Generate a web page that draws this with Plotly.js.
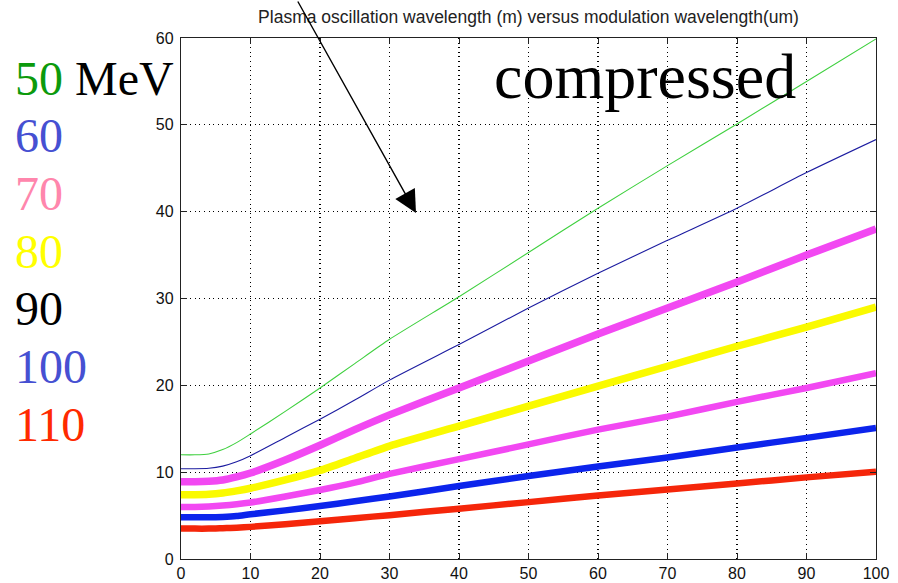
<!DOCTYPE html>
<html>
<head>
<meta charset="utf-8">
<script src="https://cdn.plot.ly/plotly-3.0.1.min.js"></script>
<style>
  html, body { margin: 0; padding: 0; background: #fff; }
  #chart { width: 898px; height: 583px; }
</style>
</head>
<body>
<div id="chart"></div>
<script>
// Modulation wavelength (um)
const modulationWavelength = [0, 2, 4, 6, 8, 10, 15, 20, 25, 30, 40, 50, 60, 70, 80, 90, 100];

// Plasma oscillation wavelength for each beam energy
const energyLabels = ['50', '60', '70', '80', '90', '100', '110'];
const wl50  = [12.0, 12.0, 12.1, 12.6, 13.4, 14.4, 17.0, 19.7, 22.5, 25.3, 30.2, 35.3, 40.4, 45.3, 50.1, 55.0, 59.9];
const wl60  = [10.4, 10.4, 10.45, 10.7, 11.2, 11.9, 14.0, 16.1, 18.3, 20.6, 24.7, 28.9, 32.9, 36.7, 40.4, 44.5, 48.3];
const wl70  = [8.9, 8.9, 8.95, 9.1, 9.45, 9.9, 11.4, 13.1, 14.9, 16.6, 19.7, 22.8, 25.9, 28.9, 31.9, 35.0, 38.0];
const wl80  = [7.4, 7.4, 7.45, 7.6, 7.85, 8.15, 9.1, 10.2, 11.6, 13.0, 15.3, 17.6, 19.9, 22.2, 24.5, 26.7, 29.0];
const wl90  = [6.0, 6.0, 6.05, 6.15, 6.3, 6.5, 7.2, 7.95, 8.8, 9.8, 11.5, 13.2, 14.9, 16.4, 18.1, 19.7, 21.4];
const wl100 = [4.8, 4.8, 4.8, 4.85, 4.95, 5.15, 5.6, 6.1, 6.65, 7.2, 8.4, 9.55, 10.65, 11.7, 12.85, 13.95, 15.1];
const wl110 = [3.5, 3.5, 3.5, 3.55, 3.6, 3.7, 4.0, 4.35, 4.7, 5.05, 5.8, 6.55, 7.3, 8.0, 8.7, 9.4, 10.05];

const seriesValues = [wl50, wl60, wl70, wl80, wl90, wl100, wl110];
const lineColors   = ['#3fd03f', '#1c1ca0', '#f248f2', '#fafa00', '#f248f2', '#0c24ec', '#f5260a'];
const lineWidths   = [1.1, 1.1, 7.5, 7.5, 6.5, 6.5, 6.5];

// Side labels (energies in MeV) and their colours
const sideLabelColors = ['#0c9a0c', '#4650d2', '#ff86ac', '#ffff00', '#000000', '#4650d2', '#ff2a00'];

const xTicks = [0, 10, 20, 30, 40, 50, 60, 70, 80, 90, 100];
const yTicks = [0, 10, 20, 30, 40, 50, 60];

const traces = seriesValues.map((ys, i) => ({
  type: 'scatter',
  mode: 'lines',
  x: modulationWavelength,
  y: ys,
  name: energyLabels[i] + ' MeV',
  line: { color: lineColors[i], width: lineWidths[i], shape: 'spline', smoothing: 0.6 },
  hoverinfo: 'x+y+name'
}));

// Geometry of the plotting box in pixels
const W = 898, H = 583;
const M = { l: 181, r: 22, t: 38, b: 24 };
const plotW = W - M.l - M.r;
const plotH = H - M.t - M.b;
const px2paperX = p => (p - M.l) / plotW;
const px2paperY = p => (H - M.b - p) / plotH;

const annotations = [];

// Energy labels down the left side
const labelTop = 78, labelStep = 57.7;
energyLabels.forEach((lab, i) => {
  const text = i === 0
    ? '<span style="color:' + sideLabelColors[0] + '">' + lab + '</span><span style="color:#000"> MeV</span>'
    : lab;
  annotations.push({
    xref: 'paper', yref: 'paper',
    x: px2paperX(13), y: px2paperY(labelTop + i * labelStep),
    xanchor: 'left', yanchor: 'middle',
    text: text, showarrow: false,
    font: { family: '"Liberation Serif", "Times New Roman", serif', size: 48, color: sideLabelColors[i] }
  });
});

// "compressed" caption
annotations.push({
  xref: 'paper', yref: 'paper',
  x: px2paperX(645), y: px2paperY(76),
  xanchor: 'center', yanchor: 'middle',
  text: 'compressed', showarrow: false,
  font: { family: '"Liberation Serif", "Times New Roman", serif', size: 64, color: '#000' }
});

// Pointer arrow
annotations.push({
  xref: 'paper', yref: 'paper',
  x: px2paperX(416), y: px2paperY(213),
  axref: 'pixel', ayref: 'pixel',
  ax: 297 - 416, ay: 0 - 213,
  text: '', showarrow: true,
  arrowhead: 2, arrowsize: 3.2, arrowwidth: 1.4, arrowcolor: '#000',
  standoff: 0
});

const axisCommon = {
  showline: true, mirror: 'ticks', linecolor: '#222', linewidth: 1.2,
  ticks: 'inside', ticklen: 6, tickcolor: '#222', tickwidth: 1,
  showgrid: true, gridcolor: '#000', gridwidth: 1.1, griddash: '1px,3.6px',
  zeroline: false,
  tickfont: { family: 'Arial, "Liberation Sans", sans-serif', size: 16, color: '#111' }
};

const layout = {
  width: W, height: H,
  margin: M,
  paper_bgcolor: '#fff', plot_bgcolor: '#fff',
  showlegend: false,
  title: {
    text: 'Plasma oscillation wavelength (m) versus modulation wavelength(um)',
    x: 0.5, xref: 'paper', xanchor: 'center',
    y: 1 - 17 / H, yanchor: 'middle',
    font: { family: 'Arial, "Liberation Sans", sans-serif', size: 17.5, color: '#222' }
  },
  xaxis: Object.assign({}, axisCommon, {
    range: [0, 100], tickvals: xTicks, ticktext: xTicks.map(String),
    ticklabelstandoff: 0
  }),
  yaxis: Object.assign({}, axisCommon, {
    range: [0, 60], tickvals: yTicks, ticktext: yTicks.map(String),
    ticklabelstandoff: 3
  }),
  annotations: annotations
};

Plotly.newPlot('chart', traces, layout, { displayModeBar: false, staticPlot: true });
</script>
</body>
</html>
